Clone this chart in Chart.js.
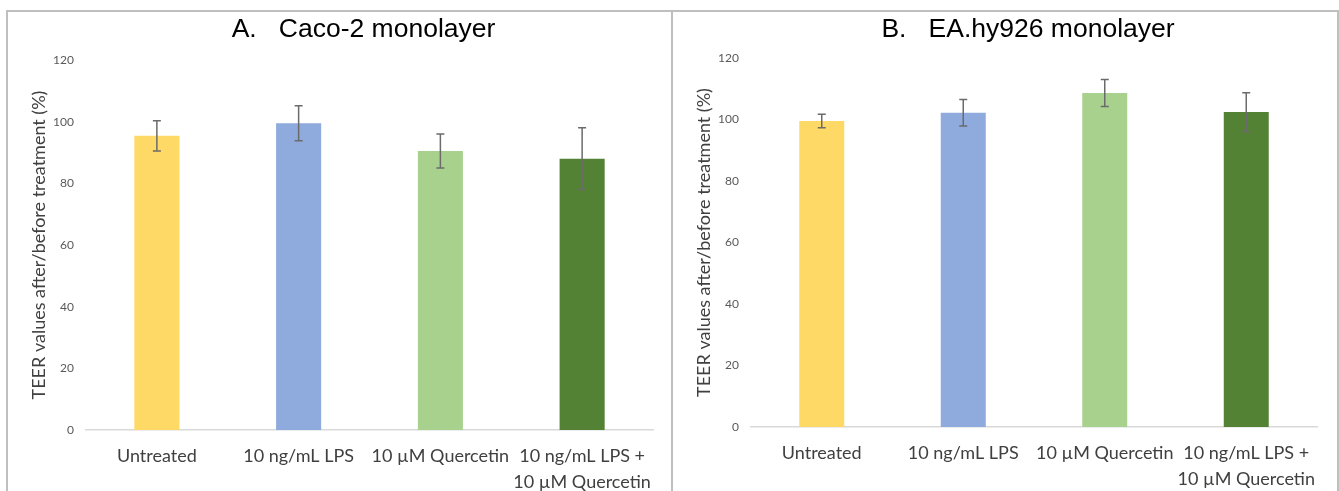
<!DOCTYPE html>
<html>
<head>
<meta charset="utf-8">
<script src="https://cdn.jsdelivr.net/npm/chart.js@4.4.1/dist/chart.umd.min.js"></script>
<style>
  body { margin: 0; background: #fff; width: 1339px; height: 491px; overflow: hidden; position: relative; }
  .panel { position: absolute; top: 10px; height: 481px; border-top: 2px solid #bfbfbf; border-left: 2px solid #bfbfbf; box-sizing: border-box; }
  .panel canvas { position: absolute; left: 0; top: 1px; }
  #panelA { left: 6px; width: 666px; }
  #panelB { left: 671px; width: 668px; border-right: 2px solid #bfbfbf; }
</style>
</head>
<body>
<div class="panel" id="panelA"><canvas id="chartA" width="663" height="478"></canvas></div>
<div class="panel" id="panelB"><canvas id="chartB" width="663" height="478"></canvas></div>
<script>
// data
var categories = ['Untreated', '10 ng/mL LPS', '10 µM Quercetin', ['10 ng/mL LPS +', '10 µM Quercetin']];
var barColors = ['#FFD966', '#8FAADC', '#A9D18E', '#548235'];

var titleA = 'A.   Caco-2 monolayer';
var caco2Values = [95.4, 99.5, 90.5, 88.0];
var caco2Errors = [4.9, 5.7, 5.5, 10.0];

var titleB = 'B.   EA.hy926 monolayer';
var eahyValues = [99.5, 102.2, 108.6, 102.4];
var eahyErrors = [2.2, 4.3, 4.4, 6.3];

var yTicks = [0, 20, 40, 60, 80, 100, 120];
var yTitle = 'TEER values after/before treatment (%)';

// error bars + chart heading drawn with the chart's own scales
var errorBarPlugin = {
  id: 'errorBars',
  afterDatasetsDraw: function (chart) {
    var errs = chart.options.plugins.errorBars.errors;
    var meta = chart.getDatasetMeta(0);
    var y = chart.scales.y;
    var ctx = chart.ctx;
    ctx.save();
    ctx.strokeStyle = '#6b6b6b';
    ctx.lineWidth = 1.5;
    meta.data.forEach(function (bar, i) {
      var v = chart.data.datasets[0].data[i];
      var top = y.getPixelForValue(v + errs[i]);
      var bot = y.getPixelForValue(v - errs[i]);
      ctx.beginPath();
      ctx.moveTo(bar.x, top); ctx.lineTo(bar.x, bot);
      ctx.moveTo(bar.x - 4, top); ctx.lineTo(bar.x + 4, top);
      ctx.moveTo(bar.x - 4, bot); ctx.lineTo(bar.x + 4, bot);
      ctx.stroke();
    });
    ctx.restore();
  }
};

var headingPlugin = {
  id: 'heading',
  afterDraw: function (chart) {
    var ctx = chart.ctx;
    var area = chart.chartArea;
    ctx.save();
    ctx.font = '26.5px "Liberation Sans", Arial, sans-serif';
    ctx.fillStyle = '#000';
    ctx.textAlign = 'center';
    ctx.textBaseline = 'alphabetic';
    ctx.fillText(chart.options.plugins.heading.text, (area.left + area.right) / 2 - 6, 24);
    ctx.restore();
  }
};

function makeChart(id, heading, values, errors, padTop, padRight, xHeight) {
  var ctx = document.getElementById(id).getContext('2d');
  return new Chart(ctx, {
    type: 'bar',
    data: {
      labels: categories,
      datasets: [{
        data: values,
        backgroundColor: barColors,
        borderWidth: 0,
        categoryPercentage: 1,
        barPercentage: 0.318
      }]
    },
    options: {
      responsive: false,
      animation: false,
      layout: { padding: { top: padTop, right: padRight, left: 0, bottom: 0 } },
      plugins: {
        legend: { display: false },
        tooltip: { enabled: false },
        errorBars: { errors: errors },
        heading: { text: heading }
      },
      scales: {
        x: {
          grid: { display: false },
          border: { display: true, color: '#d9d9d9', width: 1.5 },
          ticks: {
            color: '#404040',
            font: { family: 'Lato, "Open Sans", sans-serif', size: 18, lineHeight: 1.45 },
            maxRotation: 0,
            minRotation: 0,
            autoSkip: false,
            padding: 5
          },
          afterFit: function (s) { s.height = xHeight; }
        },
        y: {
          min: 0,
          max: 120,
          afterBuildTicks: function (s) { s.ticks = yTicks.map(function (v) { return { value: v }; }); },
          grid: { display: false, drawTicks: false },
          border: { display: false },
          ticks: {
            color: '#595959',
            font: { family: 'Lato, "Open Sans", sans-serif', size: 12 },
            padding: 12
          },
          title: {
            display: true,
            text: yTitle,
            color: '#404040',
            font: { family: 'Lato, "Open Sans", sans-serif', size: 18 },
            padding: { top: 20, bottom: 0 }
          },
          afterFit: function (s) { s.width = 78; }
        }
      }
    },
    plugins: [errorBarPlugin, headingPlugin]
  });
}

makeChart('chartA', titleA, caco2Values, caco2Errors, 47, 18, 61);
makeChart('chartB', titleB, eahyValues, eahyErrors, 45, 19, 64);
</script>
</body>
</html>
